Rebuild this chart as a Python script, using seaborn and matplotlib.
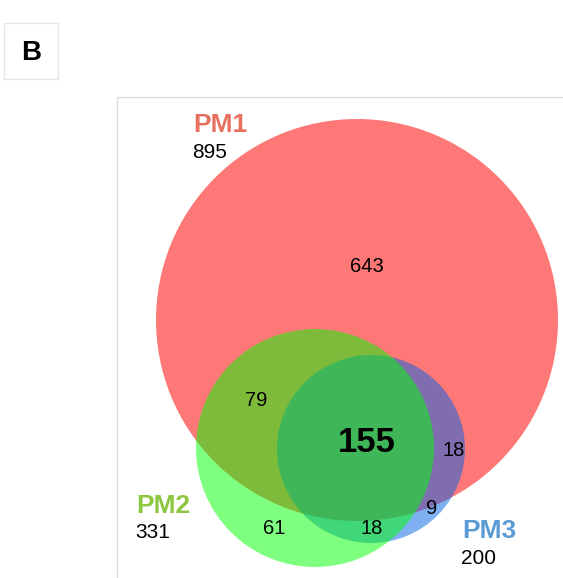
import matplotlib
matplotlib.use("Agg")
import matplotlib.pyplot as plt
import matplotlib.patches as mpatches
import seaborn as sns

# Venn data: set names, totals and counts per region
set_names = ["PM1", "PM2", "PM3"]
set_totals = [895, 331, 200]
region_names = ["PM1 only", "PM1&PM2", "PM1&PM2&PM3", "PM1&PM3",
                "PM3 only", "PM2 only", "PM2&PM3"]
region_counts = [643, 79, 155, 18, 9, 61, 18]

sns.set_theme(style="white")
plt.rcParams["font.family"] = ["Liberation Sans", "DejaVu Sans"]

fig = plt.figure(figsize=(5.63, 5.78), dpi=100)
ax = fig.add_axes([0, 0, 1, 1])
ax.set_xlim(0, 563)
ax.set_ylim(578, 0)
ax.set_aspect("equal")
ax.axis("off")

# circle geometry (pixel space) and fill colours, drawn red -> blue -> green
circles = {
    "PM1": ((357, 320), 201, (1.0, 0.0, 0.0), 0.53),
    "PM3": ((371, 449), 94, (0.0, 0.39, 0.9), 0.5),
    "PM2": ((315, 448), 119, (0.0, 1.0, 0.0), 0.5),
}
for name in ["PM1", "PM3", "PM2"]:
    (cx, cy), r, col, a = circles[name]
    ax.add_patch(mpatches.Circle((cx, cy), r, facecolor=col, alpha=a,
                                 edgecolor="none"))

# set titles and totals
title_colors = ["#E8705F", "#8DC63F", "#5B9BD5"]
title_pos = [(193, 125), (136, 506), (462, 531)]
for name, total, col, (x, y) in zip(set_names, set_totals, title_colors, title_pos):
    ax.text(x, y, name, color=col, fontsize=19, fontweight="bold",
            ha="left", va="center")
    ax.text(x - 1, y + 27, str(total), color="black", fontsize=15,
            ha="left", va="center")

# region counts
region_pos = [(367, 266), (256, 400), (367, 442), (454, 451),
              (432, 509), (274, 528), (372, 528)]
for cnt, (x, y) in zip(region_counts, region_pos):
    big = cnt == 155
    ax.text(x, y, str(cnt), color="black",
            fontsize=25 if big else 14.5,
            fontweight="bold" if big else "normal",
            ha="center", va="center")

# panel frame
ax.plot([117, 117, 563], [578, 97, 97], color="#DDDDDD", lw=1)

# panel letter box
ax.add_patch(mpatches.Rectangle((4, 23), 54, 56, facecolor="white",
                                edgecolor="#E6E6E6", lw=1))
ax.text(31, 53, "B", color="black", fontsize=20, fontweight="bold",
        ha="center", va="center")

fig.savefig("out.png", dpi=100)
